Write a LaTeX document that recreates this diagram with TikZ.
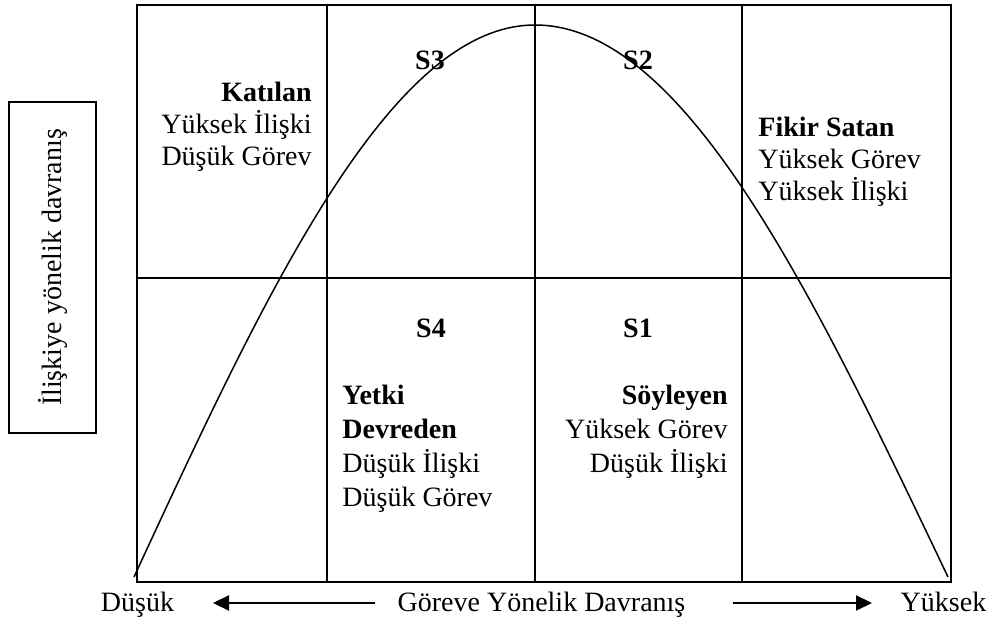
\documentclass[tikz,border=0pt]{standalone}
\usepackage{fontspec}
\setmainfont{Liberation Serif}
\usepackage{tikz}
\usetikzlibrary{arrows.meta, positioning}
\definecolor{mydark}{RGB}{0,0,0}
\tikzset{
  cell/.style={inner sep=0pt, font=\fontsize{14}{16}\selectfont, text=mydark},
  lowcell/.style={inner sep=0pt, font=\fontsize{14}{17}\selectfont, text=mydark},
  slabel/.style={inner sep=0pt, font=\fontsize{14}{16}\selectfont\bfseries, text=mydark},
  axislabel/.style={inner sep=0pt, font=\fontsize{14}{16}\selectfont, text=mydark},
  sidebox/.style={draw=mydark, line width=0.75pt, rotate=90,
    minimum width=165.5pt, minimum height=43.5pt, inner sep=0pt,
    font=\fontsize{14}{16}\selectfont},
  arrow/.style={-{Triangle[length=8pt, width=7.5pt]}, line width=1.1pt, color=mydark},
  grid/.style={line width=1pt, color=mydark},
  curve/.style={line width=0.75pt, color=mydark}
}

\begin{document}
\begin{tikzpicture}[x=0.5pt, y=-0.5pt]
  \useasboundingbox (0,0) rectangle (991,619);
  % Quadrant grid
  \draw[grid] (137,5) rectangle (951,582);
  \draw[grid] (137,278) -- (951,278);
  \foreach \gx in {327, 535, 742}
    \draw[grid] (\gx,5) -- (\gx,582);
  % Bell curve
  \draw[curve] (134,577) sin (535,25) cos (948,577);
  % Style labels
  \node[slabel] (sthree) at (430,60) {S3};
  \node[slabel] (stwo) at (638,60) {S2};
  \node[slabel] (sfour) at (431,328) {S4};
  \node[slabel] (sone) at (638,328) {S1};
  % Quadrant texts
  \node[cell, align=right, anchor=north east] (katilan) at (312,82)
    {\textbf{Katılan}\\Yüksek İlişki\\Düşük Görev};
  \node[cell, align=left, anchor=north west] (fikir) at (758,117)
    {\textbf{Fikir Satan}\\Yüksek Görev\\Yüksek İlişki};
  \node[lowcell, align=left, anchor=north west] (yetki) at (342,385)
    {\textbf{Yetki}\\\textbf{Devreden}\\Düşük İlişki\\Düşük Görev};
  \node[lowcell, align=right, anchor=north east] (soyleyen) at (728,385)
    {\textbf{Söyleyen}\\Yüksek Görev\\Düşük İlişki};
  % Vertical axis label
  \node[sidebox] (iliski) at (52.5,267.5) {İlişkiye yönelik davranış};
  % Horizontal axis
  \node[axislabel, anchor=base] (dusuk) at (137.5,612) {Düşük};
  \node[axislabel, anchor=base] (gorev) at (541.5,612) {Göreve Yönelik Davranış};
  \node[axislabel, anchor=base] (yuksek) at (943.5,612) {Yüksek};
  \coordinate (lefttail) at (375,603);
  \coordinate (lefttip) at (213,603);
  \coordinate (righttail) at (733,603);
  \coordinate (righttip) at (872,603);
  \draw[arrow] (lefttail) -- (lefttip);
  \draw[arrow] (righttail) -- (righttip);
\end{tikzpicture}
\end{document}
